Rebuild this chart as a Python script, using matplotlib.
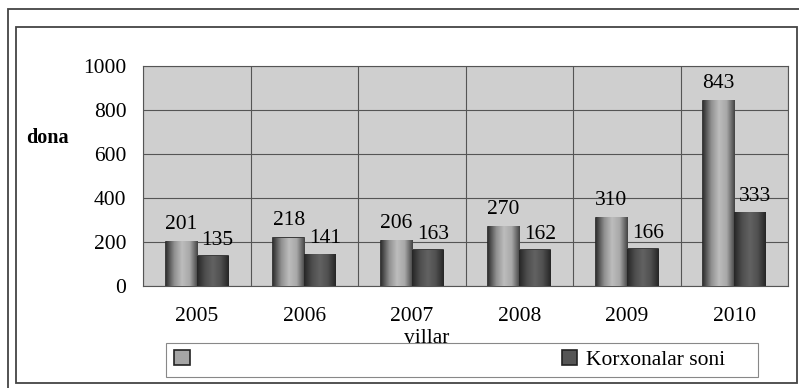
import numpy as np
import matplotlib.pyplot as plt
from matplotlib.colors import LinearSegmentedColormap
from matplotlib.patches import Rectangle

plt.rcParams['font.family'] = ['Liberation Serif', 'DejaVu Serif']

# ma'lumotlar
years = ['2005', '2006', '2007', '2008', '2009', '2010']
series1 = [201, 218, 206, 270, 310, 843]
korxonalar = [135, 141, 163, 162, 166, 333]

fs = 15.5

fig = plt.figure(figsize=(7.99, 3.88), dpi=100)

# tashqi ramkalar
fig.add_artist(Rectangle((8 / 799, -0.05), 1.0, 1 - 9 / 388 + 0.05, transform=fig.transFigure,
                         fill=False, edgecolor='#444444', linewidth=1.3))
fig.add_artist(Rectangle((16 / 799, 1 - 383 / 388), (797 - 16) / 799, (383 - 27) / 388,
                         transform=fig.transFigure, fill=False, edgecolor='#444444', linewidth=1.3))
# legenda ramkasi
fig.add_artist(Rectangle((166 / 799, 1 - 377 / 388), (758 - 166) / 799, 34 / 388,
                         transform=fig.transFigure, fill=False, edgecolor='#888888', linewidth=0.8))

ax = fig.add_axes([143 / 799, 1 - 286 / 388, (788 - 143) / 799, 220 / 388])
ax.set_facecolor('#cfcfcf')

x = np.arange(len(years))
w = 0.29
cmap1 = LinearSegmentedColormap.from_list('c1', ['#333333', '#8e8e8e', '#bdbdbd', '#a8a8a8', '#444444'])
cmap2 = LinearSegmentedColormap.from_list('c2', ['#262626', '#4e4e4e', '#626262', '#505050', '#262626'])

bars1 = ax.bar(x - w / 2, series1, w, color='#a5a5a5', edgecolor='#222222', linewidth=1.2, zorder=3)
bars2 = ax.bar(x + w / 2, korxonalar, w, color='#555555', edgecolor='#222222', linewidth=1.2, zorder=3)

grad = np.linspace(0, 1, 64).reshape(1, -1)
for bars, cm in [(bars1, cmap1), (bars2, cmap2)]:
    for b in bars:
        x0, h, bw = b.get_x(), b.get_height(), b.get_width()
        ax.imshow(grad, cmap=cm, aspect='auto', extent=[x0, x0 + bw, 0, h], zorder=3.5)

for i in range(len(years)):
    ax.text(x[i] - w / 2, series1[i] + 35, str(series1[i]), ha='center', va='bottom', fontsize=fs, zorder=5)
    ax.text(x[i] + w / 2 + 0.05, korxonalar[i] + 30, str(korxonalar[i]), ha='center', va='bottom',
            fontsize=fs, zorder=5)

ax.set_xlim(-0.5, len(years) - 0.5)
ax.set_ylim(0, 1000)
ax.set_yticks(range(0, 1001, 200))
ax.set_xticks(x)
ax.set_xticklabels(years, fontsize=fs)
ax.tick_params(axis='y', labelsize=fs, length=0, pad=12)
ax.tick_params(axis='x', length=0, pad=15)
ax.set_xticks(np.arange(-0.5, len(years), 1), minor=True)
ax.grid(True, axis='y', color='#555555', linewidth=0.8, zorder=0)
ax.grid(True, axis='x', which='minor', color='#555555', linewidth=0.8, zorder=0)
ax.grid(False, axis='x', which='major')
ax.tick_params(which='minor', length=0)
for s in ax.spines.values():
    s.set_color('#555555')
    s.set_linewidth(0.8)

fig.text(427 / 799, 1 - 343 / 388, 'villar', fontsize=fs, ha='center', va='baseline')
fig.text(47 / 799, 1 - 138 / 388, 'dona', fontsize=14.5, fontweight='bold', ha='center', va='center')

leg = fig.legend([bars1[0], bars2[0]], ['', 'Korxonalar soni'], loc='center left',
                 bbox_to_anchor=(168 / 799, 1 - 360 / 388),
                 ncol=2, fontsize=fs, frameon=False,
                 handlelength=0.7, handleheight=0.7, handletextpad=0.4, borderaxespad=0,
                 borderpad=0.3, columnspacing=16.9)

fig.savefig('out.png', dpi=100)
